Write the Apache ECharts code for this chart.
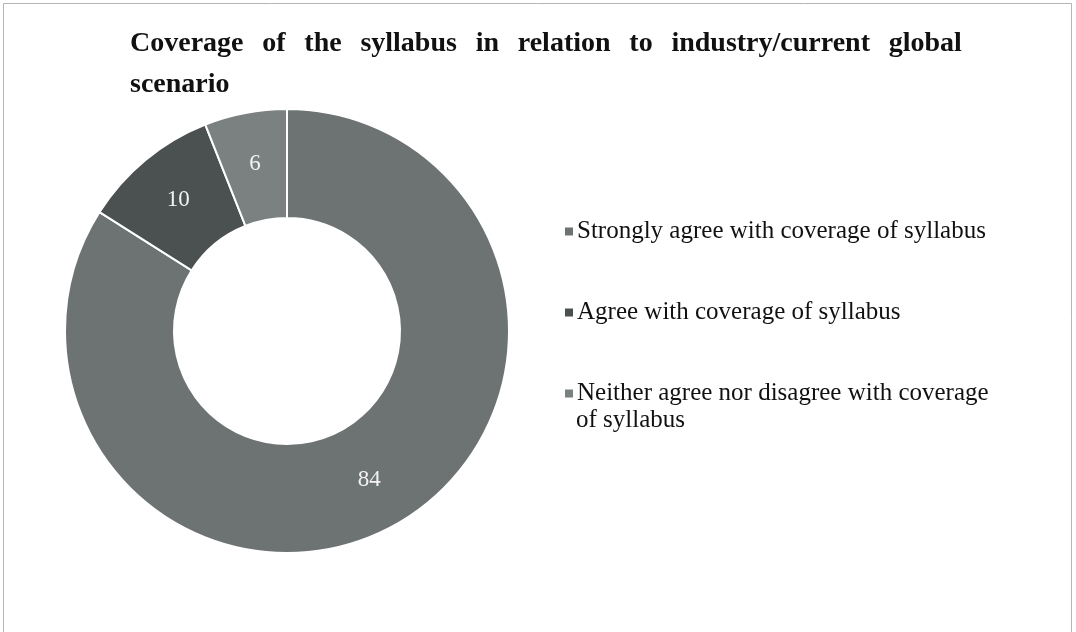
<!doctype html>
<html>
<head>
<meta charset="utf-8">
<title>syllabus coverage</title>
<script src="https://cdn.jsdelivr.net/npm/echarts@6/dist/echarts.min.js"></script>
<style>
  html, body { margin: 0; padding: 0; background: #fff; }
  #div_charts { width: 1076px; height: 632px; }
</style>
</head>
<body>
<div id="div_charts"></div>
<script>
// data
var categories = [
  'Strongly agree with coverage of syllabus',
  'Agree with coverage of syllabus',
  'Neither agree nor disagree with coverage of syllabus'
];
var values = [84, 10, 6];
var colors = ['#6d7373', '#4b5050', '#7b8181'];
var titleLine1 = ['Coverage', 'of', 'the', 'syllabus', 'in', 'relation', 'to', 'industry/current', 'global'];
var titleLine2 = 'scenario';

var serif = '"Liberation Serif", "DejaVu Serif", serif';

var myChart = echarts.init(document.getElementById('div_charts'));

var seriesData = [];
for (var i = 0; i < categories.length; i++) {
  seriesData.push({ name: categories[i], value: values[i], itemStyle: { color: colors[i] } });
}

// justified-looking first line: even gaps built from rich text
var titleText = titleLine1.map(function (w) { return '{w|' + w + '}'; }).join('{g|   }') +
  '\n{w|' + titleLine2 + '}';

var option = {
  backgroundColor: '#fff',
  animation: false,
  title: {
    text: titleText,
    left: 125,
    top: 18,
    textStyle: {
      fontFamily: serif,
      fontWeight: 'bold',
      fontSize: 28,
      lineHeight: 41,
      color: '#111',
      rich: {
        w: { fontFamily: serif, fontWeight: 'bold', fontSize: 28, lineHeight: 41, color: '#111' },
        g: { fontFamily: serif, fontWeight: 'bold', fontSize: 25, lineHeight: 41 }
      }
    }
  },
  legend: {
    orient: 'vertical',
    left: 558,
    top: 214,
    itemWidth: 10,
    itemHeight: 10,
    itemGap: 56,
    icon: 'rect',
    data: categories,
    formatter: function (name) {
      if (name === categories[2]) return 'Neither agree nor disagree with coverage';
      return name;
    },
    textStyle: {
      fontFamily: serif,
      fontSize: 25,
      color: '#111',
      padding: [0, 0, 0, -2]
    }
  },
  graphic: [
    {
      type: 'rect',
      shape: { x: 3.5, y: 3.5, width: 1068, height: 640 },
      style: { fill: 'none', stroke: '#b5b5b5', lineWidth: 1 },
      silent: true
    },
    {
      type: 'text',
      left: 576,
      top: 408,
      style: { text: 'of syllabus', font: '25px ' + serif, fill: '#111' },
      silent: true
    }
  ],
  series: [{
    name: 'Coverage',
    type: 'pie',
    center: [287, 331],
    radius: [113, 222],
    startAngle: 90,
    clockwise: true,
    avoidLabelOverlap: false,
    itemStyle: { borderColor: '#fff', borderWidth: 2 },
    label: {
      show: true,
      position: 'inside',
      formatter: '{c}',
      fontFamily: serif,
      fontSize: 23,
      color: '#f2f2f2'
    },
    labelLine: { show: false },
    emphasis: { disabled: true },
    data: seriesData
  }]
};

myChart.setOption(option);
</script>
</body>
</html>
